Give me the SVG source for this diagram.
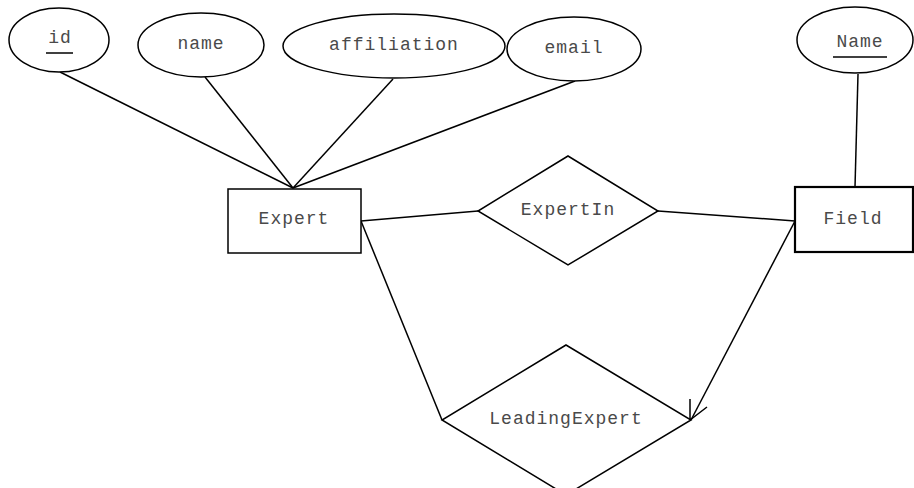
<svg xmlns="http://www.w3.org/2000/svg" width="914" height="488" viewBox="0 0 914 488">
<style>
.s{fill:#fff;stroke:#000;stroke-width:1.5}
.b{fill:#fff;stroke:#000;stroke-width:2.2}
.c{fill:none;stroke:#000;stroke-width:1.5}
text{font-family:"Liberation Mono","Courier New",monospace;font-size:18px;fill:#4a4a4a;text-anchor:middle;letter-spacing:1px}
</style>
<rect width="914" height="488" fill="#fff"/>
<g id="connectors">
<line class="c" x1="60" y1="72" x2="293" y2="188"/>
<line class="c" x1="205" y1="77" x2="293" y2="188"/>
<line class="c" x1="393" y1="79" x2="293" y2="188"/>
<line class="c" x1="575" y1="81" x2="293" y2="188"/>
<line class="c" x1="361" y1="221" x2="478" y2="211"/>
<line class="c" x1="658" y1="211" x2="795" y2="221"/>
<line class="c" x1="858" y1="74" x2="855" y2="187"/>
<line class="c" x1="361" y1="221" x2="442" y2="420"/>
<line class="c" x1="795" y1="221" x2="691" y2="420"/>
<polyline class="c" points="690,399 690,420 707,407"/>
</g>
<g id="id"><ellipse class="s" cx="59" cy="40" rx="50" ry="32"/><text x="60" y="43">id</text><line x1="46" y1="53" x2="73" y2="53" stroke="#000" stroke-width="1.5"/></g>
<g id="name"><ellipse class="s" cx="201" cy="45" rx="63" ry="32"/><text x="201" y="49">name</text></g>
<g id="affiliation"><ellipse class="s" cx="394" cy="46" rx="111" ry="32"/><text x="394" y="50">affiliation</text></g>
<g id="email"><ellipse class="s" cx="574" cy="49" rx="67" ry="32"/><text x="574" y="53">email</text></g>
<g id="Name"><ellipse class="s" cx="855" cy="40" rx="58" ry="33"/><text x="860" y="47">Name</text><line x1="833" y1="57" x2="887" y2="57" stroke="#000" stroke-width="1.5"/></g>
<g id="Expert"><rect class="s" x="228" y="189" width="133" height="64"/><text x="294" y="224">Expert</text></g>
<g id="ExpertIn"><polygon class="s" points="568,156 658,211 568,265 478,211"/><text x="568" y="215">ExpertIn</text></g>
<g id="Field"><rect class="b" x="795" y="187" width="118" height="65"/><text x="853" y="224">Field</text></g>
<g id="LeadingExpert"><polygon class="s" points="566,345 691,420 566,495 442,420"/><text x="566" y="424">LeadingExpert</text></g>
</svg>
